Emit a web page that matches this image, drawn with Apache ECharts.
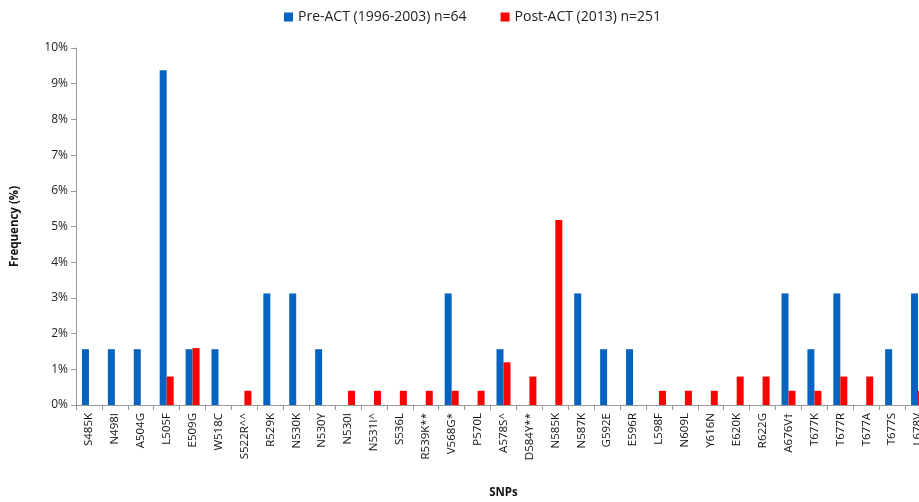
<!DOCTYPE html>
<html><head><meta charset="utf-8">
<script src="https://cdn.jsdelivr.net/npm/echarts@6/dist/echarts.min.js"></script>
<style>html,body{margin:0;padding:0;background:#fff;overflow:hidden}#c{width:919px;height:502px}</style>
</head><body><div id="c"></div>
<script>
const categories = ["S485K","N498I","A504G","L505F","E509G","W518C","S522R^^","R529K","N530K","N530Y","N530I","N531I^","S536L","R539K**","V568G*","P570L","A578S^","D584Y**","N585K","N587K","G592E","E596R","L598F","N609L","Y616N","E620K","R622G","A676V†","T677K","T677R","T677A","T677S","L678V"];
const preACT = [1.5625,1.5625,1.5625,9.375,1.5625,1.5625,0,3.125,3.125,1.5625,0,0,0,0,3.125,0,1.5625,0,0,3.125,1.5625,1.5625,0,0,0,0,0,3.125,1.5625,3.125,0,1.5625,3.125];
const postACT = [0,0,0,0.797,1.594,0,0.398,0,0,0,0.398,0.398,0.398,0.398,0.398,0.398,1.195,0.797,5.18,0,0,0,0.398,0.398,0.398,0.797,0.797,0.398,0.398,0.797,0.797,0,0.398];
const yTicks = [0,1,2,3,4,5,6,7,8,9,10];
const font = "'Open Sans', 'DejaVu Sans', sans-serif";
const chart = echarts.init(document.getElementById('c'));
chart.setOption({
  animation:false,
  textStyle:{fontFamily:font},
  legend:{top:5,left:279,itemWidth:9,itemHeight:9,itemGap:34,icon:'rect',
    textStyle:{fontSize:14,color:'#222',fontFamily:font},
    data:['Pre-ACT (1996-2003) n=64','Post-ACT (2013) n=251']},
  grid:{left:76,width:855,top:48,bottom:97,containLabel:false,outerBoundsMode:'none'},
  xAxis:{type:'category',data:categories,
    name:'SNPs',nameLocation:'middle',nameGap:82,
    nameTextStyle:{fontWeight:'bold',fontSize:11.5,color:'#111'},
    axisLine:{lineStyle:{color:'#999'}},
    axisTick:{show:true,alignWithLabel:false,length:5,lineStyle:{color:'#999'}},
    axisLabel:{rotate:90,interval:0,fontSize:11.5,color:'#111',margin:8}},
  yAxis:{type:'value',min:0,max:10,interval:1,
    name:'Frequency (%)',nameLocation:'middle',nameGap:55,nameRotate:90,
    nameTextStyle:{fontWeight:'bold',fontSize:11.5,color:'#111'},
    axisLine:{show:true,lineStyle:{color:'#999'}},
    axisTick:{show:true,length:5,lineStyle:{color:'#999'}},
    splitLine:{show:false},
    axisLabel:{fontSize:12,color:'#222',margin:8,formatter:v=>v+'%'}},
  series:[
    {name:'Pre-ACT (1996-2003) n=64',type:'bar',data:preACT,barWidth:7,barGap:'0%',itemStyle:{color:'#0563C1'}},
    {name:'Post-ACT (2013) n=251',type:'bar',data:postACT,barWidth:7,barGap:'0%',itemStyle:{color:'#FF0000'}}
  ]
});
</script></body></html>
